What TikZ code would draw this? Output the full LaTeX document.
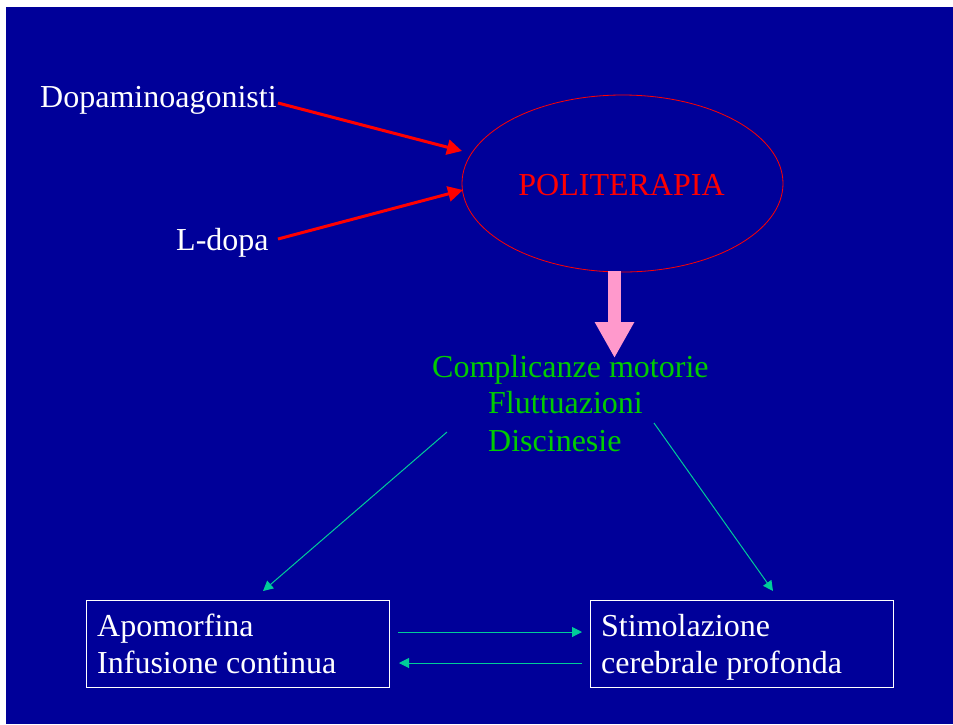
\documentclass[tikz,border=0pt]{standalone}
\usepackage{fontspec}
\setmainfont{Liberation Serif}
\usetikzlibrary{arrows.meta,shapes.geometric}
\definecolor{slideblue}{RGB}{0,0,153}
\definecolor{pinkarr}{RGB}{255,153,204}
\definecolor{greentxt}{RGB}{0,204,0}
\definecolor{tealarr}{RGB}{0,204,153}
\begin{document}
\begin{tikzpicture}[x=1pt,y=-1pt,
  lbl/.style={inner sep=0pt,anchor=base west,font=\fontsize{32}{36}\selectfont},
  redarr/.style={draw=red,line width=3pt,-{Triangle[length=15pt,width=15pt]}},
  tealline/.style={draw=tealarr,line width=1pt,-{Triangle[length=10pt,width=10pt]}},
  boxnode/.style={draw=white,line width=1pt,minimum width=303pt,minimum height=87pt,inner sep=0pt}]
\useasboundingbox (0,0) rectangle (953,724);
\fill[white] (0,0) rectangle (953,724);
\fill[slideblue] (6,7) rectangle (953,724);

% left labels
\node[lbl,text=white] (dopa) at (40,107) {Dopaminoagonisti};
\node[lbl,text=white] (ldopa) at (176,250) {L-dopa};

% ellipse
\node[draw=red,line width=0.8pt,ellipse,minimum width=321pt,minimum height=177pt,inner sep=0pt] (poli) at (622.5,183.5) {};
\node[lbl,text=red,anchor=base] (politxt) at (621.5,195) {POLITERAPIA};

\coordinate (d1) at (278,103);
\coordinate (d2) at (462,151);
\coordinate (l1) at (278,239);
\coordinate (l2) at (463,190);
\draw[redarr] (d1) -- (d2);
\draw[redarr] (l1) -- (l2);

% pink arrow
\coordinate (p1) at (614.5,271);
\coordinate (p2) at (614.5,358);
\draw[pinkarr,line width=13pt,-{Triangle[length=36pt,width=37pt]}] (p1) -- (p2);

% green text
\node[lbl,text=greentxt] (comp) at (432,377) {Complicanze motorie};
\node[lbl,text=greentxt] (flut) at (488,413) {Fluttuazioni};
\node[lbl,text=greentxt] (disc) at (488,451) {Discinesie};

% teal diagonal arrows
\coordinate (a1) at (447,432);
\coordinate (a2) at (263,591);
\coordinate (b1) at (654,423);
\coordinate (b2) at (773,591);
\draw[tealline] (a1) -- (a2);
\draw[tealline] (b1) -- (b2);

% boxes
\node[boxnode] (apo) at (238,643.5) {};
\node[boxnode] (stim) at (742,643.5) {};
\node[lbl,text=white] (apo1) at (97,636) {Apomorfina};
\node[lbl,text=white] (apo2) at (97,673) {Infusione continua};
\node[lbl,text=white] (stim1) at (601,636) {Stimolazione};
\node[lbl,text=white] (stim2) at (601,673) {cerebrale profonda};

% horizontal arrows
\coordinate (h1) at (398,632);
\coordinate (h2) at (582,632);
\coordinate (h3) at (582,663);
\coordinate (h4) at (399,663);
\draw[tealline] (h1) -- (h2);
\draw[tealline] (h3) -- (h4);
\end{tikzpicture}
\end{document}
